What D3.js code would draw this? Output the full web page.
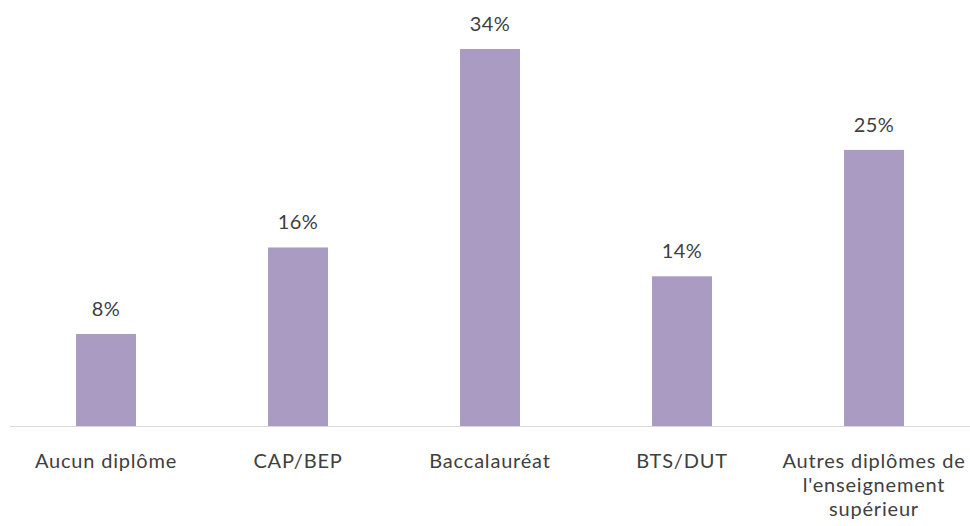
<!DOCTYPE html>
<html><head><meta charset="utf-8">
<script src="https://cdn.jsdelivr.net/npm/d3@7"></script>
<style>body{margin:0;background:#fff}svg{display:block}</style>
</head><body>
<svg id="c" width="970" height="526"></svg>
<script>
const categories = ["Aucun diplôme", "CAP/BEP", "Baccalauréat", "BTS/DUT", "Autres diplômes de|l'enseignement|supérieur"];
const values = [8.3, 16.1, 34.0, 13.5, 24.9];
const valueLabels = ["8%", "16%", "34%", "14%", "25%"];

const svg = d3.select("#c");
const baseY = 426;
const x = d3.scaleBand().domain(categories).range([10, 970]).paddingInner(0.6875).paddingOuter(0.34375);
const y = d3.scaleLinear().domain([0, 34]).range([baseY, 49]);
const font = "Lato, 'Open Sans', sans-serif";

svg.selectAll("rect.bar").data(values).join("rect")
  .attr("class", "bar")
  .attr("x", (d, i) => x(categories[i]))
  .attr("width", x.bandwidth())
  .attr("y", d => y(d))
  .attr("height", d => baseY - y(d))
  .attr("fill", "#a99bc2");

svg.append("line").attr("x1", 10).attr("x2", 970).attr("y1", baseY + 0.5).attr("y2", baseY + 0.5)
  .attr("stroke", "#d9d9d9").attr("stroke-width", 1);

svg.selectAll("text.val").data(values).join("text")
  .attr("class", "val")
  .attr("x", (d, i) => x(categories[i]) + x.bandwidth() / 2)
  .attr("y", d => y(d) - 18)
  .attr("text-anchor", "middle")
  .attr("font-family", font).attr("font-size", 20).attr("fill", "#404040")
  .attr("letter-spacing", 0.5)
  .text((d, i) => valueLabels[i]);

const cat = svg.selectAll("text.cat").data(categories).join("text")
  .attr("class", "cat")
  .attr("text-anchor", "middle")
  .attr("font-family", font).attr("font-size", 20).attr("fill", "#404040")
  .attr("letter-spacing", 0.8);
cat.each(function (d) {
  const lines = d.split("|");
  d3.select(this).selectAll("tspan").data(lines).join("tspan")
    .attr("x", x(d) + x.bandwidth() / 2)
    .attr("y", (l, j) => 468 + j * 24)
    .text(l => l);
});
</script>
</body></html>
